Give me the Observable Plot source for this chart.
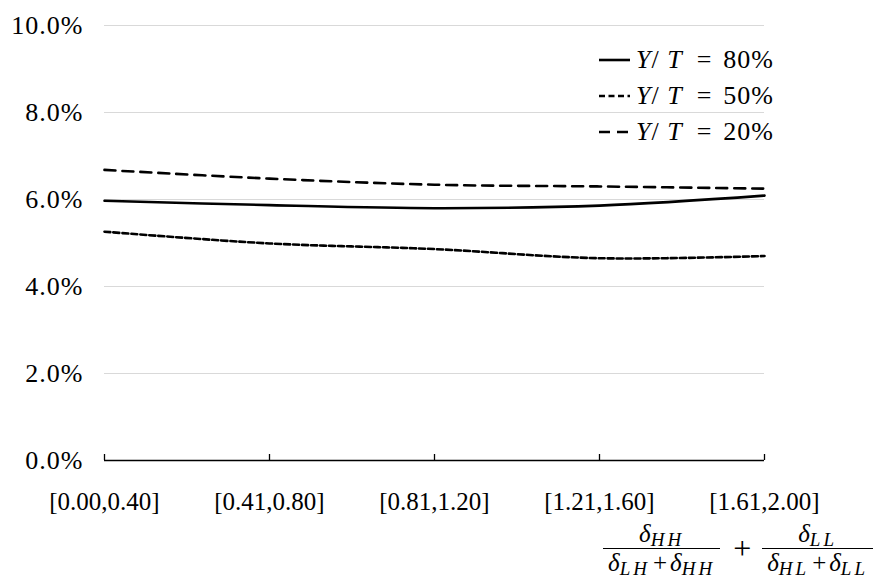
<!DOCTYPE html>
<html>
<head>
<meta charset="utf-8">
<script src="https://cdn.jsdelivr.net/npm/d3@7"></script>
<script src="https://cdn.jsdelivr.net/npm/@observablehq/plot@0.6"></script>
<style>
  body { margin: 0; background: #fff; }
  #chart { position: relative; width: 875px; height: 581px; font-family: "Liberation Serif", serif; color: #000; }
  #chart svg { display: block; }
  .legend { position: absolute; left: 597px; top: 42px; font-size: 26px; letter-spacing: 1px; }
  .legend .row { display: flex; align-items: center; height: 36px; }
  .legend .row svg { width: 36px; height: 10px; }
  .legend .row span { background: #fff; padding-left: 3px; white-space: nowrap; }
  .legend i { font-style: italic; }
  .legend .eq { margin: 0 11px; }
  .formula { position: absolute; right: 2px; top: 521px; display: flex; align-items: center; font-size: 25px; }
  .frac { display: inline-flex; flex-direction: column; align-items: center; }
  .frac .num { padding: 0 3px 1px; line-height: 26px; }
  .frac .den { border-top: 1.3px solid #000; padding: 1px 5px 0; line-height: 26px; }
  .plus { font-size: 32px; margin: 0 11px 0 13px; }
  .op { margin: 0 3px; }
  .d { font-style: italic; }
  sub { font-size: 19px; font-style: italic; vertical-align: -4px; line-height: 0; letter-spacing: 3px; }
</style>
</head>
<body>
<div id="chart"></div>
<script>
// Ratio bins on the x axis
const bins = ["[0.00,0.40]", "[0.41,0.80]", "[0.81,1.20]", "[1.21,1.60]", "[1.61,2.00]"];

// Values in percent, one array per Y/T level
const ratio80 = [5.97, 5.87, 5.80, 5.86, 6.09];
const ratio50 = [5.26, 4.99, 4.86, 4.65, 4.70];
const ratio20 = [6.68, 6.48, 6.34, 6.30, 6.25];

const seriesLevels = ["80%", "50%", "20%"];
const yTicks = [0, 2, 4, 6, 8, 10];

const dashBySeries = { "80%": null, "50%": "6,3", "20%": "11,7" };

const rows = [ratio80, ratio50, ratio20].flatMap((vals, i) =>
  vals.map((v, j) => ({ bin: bins[j], value: v, level: seriesLevels[i] }))
);

const serif = "'Liberation Serif', serif";

const chart = Plot.plot({
  width: 875,
  height: 581,
  marginLeft: 104,
  marginRight: 111,
  marginTop: 25,
  marginBottom: 121,
  style: { fontFamily: serif, fontSize: "24px", color: "#000", background: "#fff", overflow: "visible" },
  x: { type: "point", domain: bins, padding: 0 },
  y: { domain: [0, 10] },
  marks: [
    Plot.gridY(yTicks.filter(d => d > 0), { stroke: "#d9d9d9", strokeOpacity: 1, strokeWidth: 1 }),
    Plot.ruleY([0], { stroke: "#000", strokeWidth: 1.3 }),
    Plot.axisY(yTicks, { tickSize: 0, tickPadding: 21, tickFormat: d => d.toFixed(1) + "%", label: null, fontFamily: serif, fontSize: 26 }),
    Plot.axisX({ text: null, tickSize: 6, dy: -6, stroke: "#000", strokeWidth: 1.3, label: null }),
    Plot.axisX({ tickSize: 0, tickPadding: 32, label: null, fontFamily: serif, fontSize: 25 }),
    ...seriesLevels.map(level =>
      Plot.line(rows.filter(r => r.level === level), {
        x: "bin",
        y: "value",
        stroke: "#000",
        strokeWidth: 2.6,
        strokeDasharray: dashBySeries[level],
        curve: "catmull-rom"
      })
    )
  ]
});

// Slightly wider tracking on the tick labels
d3.select(chart).select('g[aria-label="y-axis tick label"]').attr("letter-spacing", "1px");
d3.select(chart).select('g[aria-label="x-axis tick label"]').attr("letter-spacing", "0.8px");

const host = document.getElementById("chart");
host.appendChild(chart);

// Legend: line sample + "Y/ T = level"
const legend = document.createElement("div");
legend.className = "legend";
for (const level of seriesLevels) {
  const row = document.createElement("div");
  row.className = "row";
  const dash = dashBySeries[level];
  row.innerHTML =
    `<svg viewBox="0 0 36 10"><line x1="2" x2="33" y1="5" y2="5" stroke="#000" stroke-width="2.6"${dash ? ` stroke-dasharray="${level === "50%" ? "6,3.5" : "11,7"}"` : ""}/></svg>` +
    `<span><i>Y</i>/ <i>T</i><span class="eq">=</span>${level}</span>`;
  legend.appendChild(row);
}
host.appendChild(legend);

// Axis title: sum of the two delta ratios
const formula = document.createElement("div");
formula.className = "formula";
formula.innerHTML =
  `<span class="frac"><span class="num"><span class="d">δ</span><sub>HH</sub></span>` +
  `<span class="den"><span class="d">δ</span><sub>LH</sub><span class="op">+</span><span class="d">δ</span><sub>HH</sub></span></span>` +
  `<span class="plus">+</span>` +
  `<span class="frac"><span class="num"><span class="d">δ</span><sub>LL</sub></span>` +
  `<span class="den"><span class="d">δ</span><sub>HL</sub><span class="op">+</span><span class="d">δ</span><sub>LL</sub></span></span>`;
host.appendChild(formula);
</script>
</body>
</html>
